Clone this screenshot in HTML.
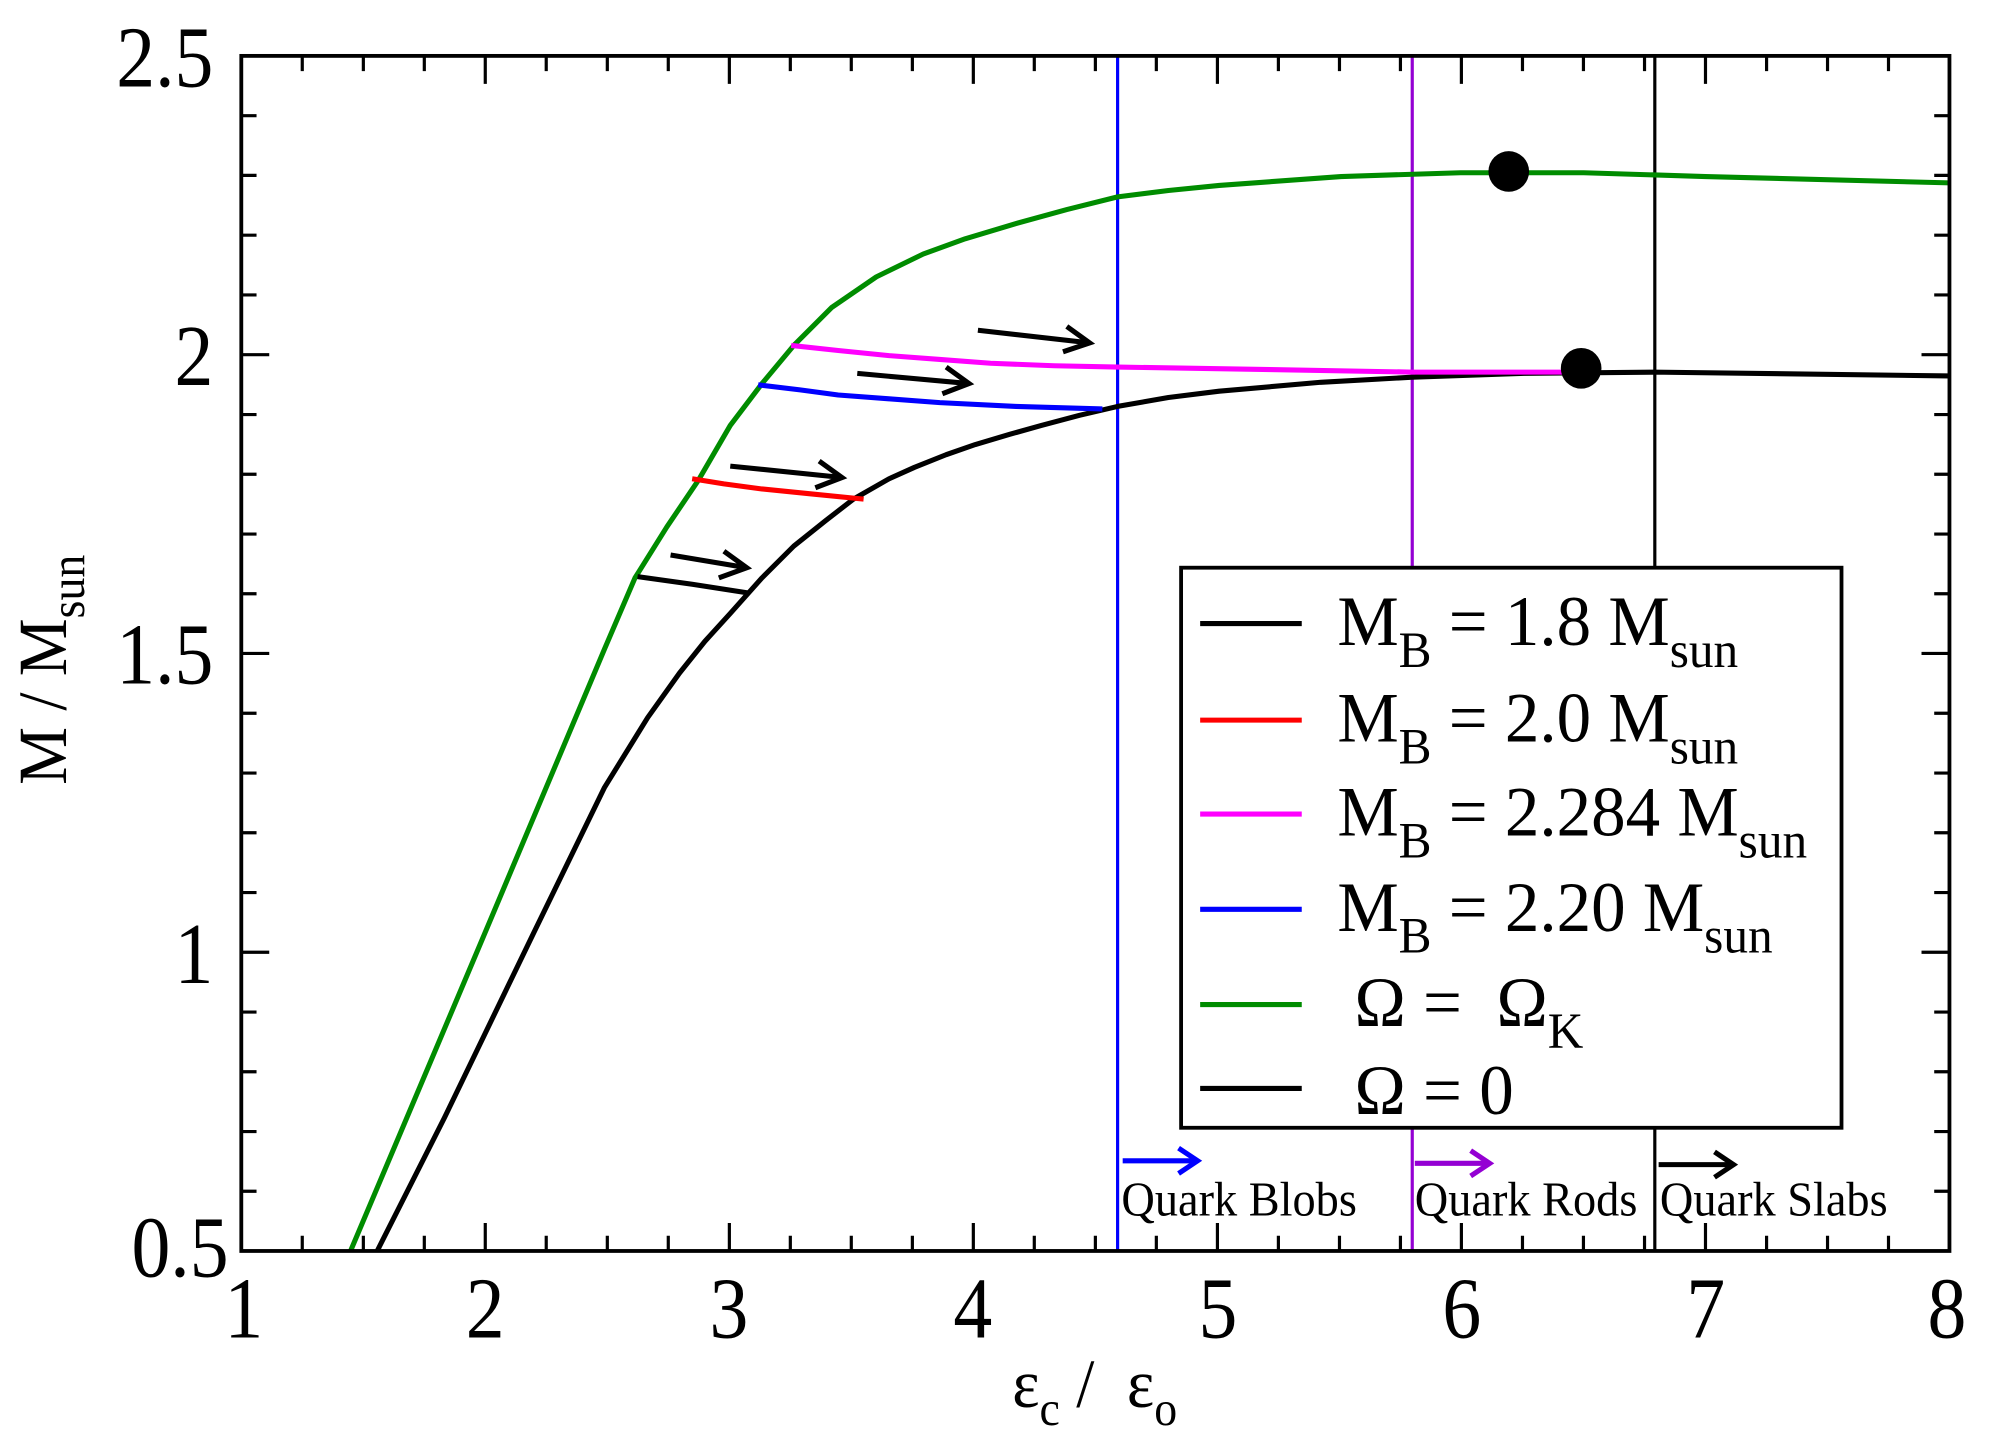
<!DOCTYPE html>
<html><head><meta charset="utf-8"><style>
html,body{margin:0;padding:0;background:#fff;}
svg{display:block;}
text{font-family:"Liberation Serif",serif;fill:#000;}
</style></head><body>
<svg width="1992" height="1451" viewBox="0 0 1568.5 1142.5" xmlns="http://www.w3.org/2000/svg">
<line x1="880" y1="44" x2="880" y2="985" stroke="#0000ff" stroke-width="2.5"/>
<line x1="1112" y1="44" x2="1112" y2="985" stroke="#9400d3" stroke-width="2.5"/>
<line x1="1303" y1="44" x2="1303" y2="985" stroke="#000" stroke-width="2.5"/>
<polyline fill="none" stroke="#008c00" stroke-width="4" stroke-linejoin="round" points="276,985 380,739 476,511 500,455 525,415 550,378 575,335 600,302 625,272 655,242 690,218 727,200 760,188 800,176 840,165 880,155 920,150 960,146 1056,139 1150,136 1247,136 1343,139 1535,144"/>
<polyline fill="none" stroke="#000" stroke-width="4" stroke-linejoin="round" points="297,985 350,880 420,735 476,620 510,565 535,530 555,505 575,483 600,455 625,430 650,410 672,393 700,377 720,368 745,358 768,350 795,342 820,335 850,327 880,320 920,313 960,308 1040,301 1112,297 1200,294 1303,293 1535,296"/>
<polyline fill="none" stroke="#000" stroke-width="4" points="502,454 545,460 590,467"/>
<polyline fill="none" stroke="#ff0000" stroke-width="4" stroke-linejoin="round" points="545,377 570,381 600,385 640,389 680,393"/>
<polyline fill="none" stroke="#0000ff" stroke-width="4" stroke-linejoin="round" points="597,303 630,307 660,311 700,314 740,317 800,320 868,322"/>
<polyline fill="none" stroke="#ff00ff" stroke-width="4" stroke-linejoin="round" points="623,272 660,276 700,280 740,283 780,286 830,288 880,289 1000,291 1112,293 1240,293"/>
<circle cx="1245" cy="290" r="16" fill="#000"/>
<circle cx="1188" cy="135" r="16" fill="#000"/>
<g stroke="#000" stroke-width="4" fill="none">
<line x1="528" y1="437" x2="588" y2="447"/><polyline points="570,434 588,447 566,455"/>
<line x1="575" y1="367" x2="663" y2="376"/><polyline points="645,363 663,376 642,384"/>
<line x1="675" y1="294" x2="763" y2="302"/><polyline points="745,289 763,302 742,310"/>
<line x1="770" y1="260" x2="858" y2="270"/><polyline points="840,257 858,270 837,277"/>
</g>
<rect x="930" y="447" width="520" height="441" fill="#fff" stroke="#000" stroke-width="3"/>
<g stroke-width="4">
<line x1="945" y1="491" x2="1025" y2="491" stroke="#000"/>
<line x1="945" y1="567" x2="1025" y2="567" stroke="#ff0000"/>
<line x1="945" y1="641" x2="1025" y2="641" stroke="#ff00ff"/>
<line x1="945" y1="716" x2="1025" y2="716" stroke="#0000ff"/>
<line x1="945" y1="791" x2="1025" y2="791" stroke="#008c00"/>
<line x1="945" y1="857" x2="1025" y2="857" stroke="#000"/>
</g>
<g font-size="56">
<text transform="translate(1053,508) scale(0.97,1)">M<tspan font-size="40" dy="17">B</tspan><tspan dy="-17"> = 1.8 M</tspan><tspan font-size="40" dy="17">sun</tspan></text>
<text transform="translate(1053,584) scale(0.97,1)">M<tspan font-size="40" dy="17">B</tspan><tspan dy="-17"> = 2.0 M</tspan><tspan font-size="40" dy="17">sun</tspan></text>
<text transform="translate(1053,658) scale(0.97,1)">M<tspan font-size="40" dy="17">B</tspan><tspan dy="-17"> = 2.284 M</tspan><tspan font-size="40" dy="17">sun</tspan></text>
<text transform="translate(1053,733) scale(0.97,1)">M<tspan font-size="40" dy="17">B</tspan><tspan dy="-17"> = 2.20 M</tspan><tspan font-size="40" dy="17">sun</tspan></text>
<text transform="translate(1053,808) scale(0.97,1)" xml:space="preserve"> Ω =  Ω<tspan font-size="40" dy="17">K</tspan></text>
<text transform="translate(1053,877) scale(0.97,1)" xml:space="preserve"> Ω = 0</text>
</g>
<g stroke-width="4" fill="none">
<line x1="884" y1="914" x2="943" y2="914" stroke="#0000ff"/><polyline points="928,904 943,914 928,924" stroke="#0000ff"/>
<line x1="1114" y1="916" x2="1173" y2="916" stroke="#9400d3"/><polyline points="1158,906 1173,916 1158,926" stroke="#9400d3"/>
<line x1="1306" y1="917" x2="1365" y2="917" stroke="#000"/><polyline points="1350,907 1365,917 1350,927" stroke="#000"/>
</g>
<g font-size="38">
<text transform="translate(883,957) scale(0.96,1)">Quark Blobs</text>
<text transform="translate(1114,957) scale(0.96,1)">Quark Rods</text>
<text transform="translate(1307,957) scale(0.96,1)">Quark Slabs</text>
</g>
<rect x="190" y="44" width="1345" height="941" fill="none" stroke="#000" stroke-width="3"/>
<g stroke="#000" stroke-width="2.5">
<path d="M382.1 985v-22M574.3 985v-22M766.4 985v-22M958.6 985v-22M1150.7 985v-22M1342.9 985v-22M382.1 44v22M574.3 44v22M766.4 44v22M958.6 44v22M1150.7 44v22M1342.9 44v22"/>
<path d="M238 985v-12M286.1 985v-12M334.1 985v-12M430.1 985v-12M478.2 985v-12M526.2 985v-12M622.3 985v-12M670.3 985v-12M718.4 985v-12M814.4 985v-12M862.5 985v-12M910.5 985v-12M1006.6 985v-12M1054.7 985v-12M1102.7 985v-12M1198.8 985v-12M1246.8 985v-12M1294.9 985v-12M1391 985v-12M1439 985v-12M1487 985v-12
M238 44v12M286.1 44v12M334.1 44v12M430.1 44v12M478.2 44v12M526.2 44v12M622.3 44v12M670.3 44v12M718.4 44v12M814.4 44v12M862.5 44v12M910.5 44v12M1006.6 44v12M1054.7 44v12M1102.7 44v12M1198.8 44v12M1246.8 44v12M1294.9 44v12M1391 44v12M1439 44v12M1487 44v12"/>
<path d="M190 279.3h22M190 514.5h22M190 749.8h22M1535 279.3h-22M1535 514.5h-22M1535 749.8h-22"/>
<path d="M190 91.1h12M190 138.1h12M190 185.2h12M190 232.2h12M190 326.4h12M190 373.4h12M190 420.5h12M190 467.5h12M190 561.6h12M190 608.7h12M190 655.7h12M190 702.8h12M190 796.9h12M190 843.9h12M190 891h12M190 938h12
M1535 91.1h-12M1535 138.1h-12M1535 185.2h-12M1535 232.2h-12M1535 326.4h-12M1535 373.4h-12M1535 420.5h-12M1535 467.5h-12M1535 561.6h-12M1535 608.7h-12M1535 655.7h-12M1535 702.8h-12M1535 796.9h-12M1535 843.9h-12M1535 891h-12M1535 938h-12"/>
</g>
<g font-size="68" text-anchor="middle">
<text transform="translate(192,1053) scale(0.9,1)">1</text>
<text transform="translate(382,1053) scale(0.9,1)">2</text>
<text transform="translate(574,1053) scale(0.9,1)">3</text>
<text transform="translate(766,1053) scale(0.9,1)">4</text>
<text transform="translate(959,1053) scale(0.9,1)">5</text>
<text transform="translate(1151,1053) scale(0.9,1)">6</text>
<text transform="translate(1343,1053) scale(0.9,1)">7</text>
<text transform="translate(1533,1053) scale(0.9,1)">8</text>
</g>
<g font-size="68" text-anchor="end">
<text transform="translate(168,68) scale(0.9,1)">2.5</text>
<text transform="translate(168,303) scale(0.9,1)">2</text>
<text transform="translate(168,538) scale(0.9,1)">1.5</text>
<text transform="translate(168,774) scale(0.9,1)">1</text>
<text transform="translate(180,1005) scale(0.9,1)">0.5</text>
</g>
<text transform="translate(797,1108) scale(0.95,1)" font-size="54">ε<tspan font-size="38" dy="14">c</tspan><tspan dy="-14" xml:space="preserve"> /  ε</tspan><tspan font-size="38" dy="14">o</tspan></text>
<text transform="translate(52,618) rotate(-90) scale(0.95,1)" font-size="54">M / M<tspan font-size="38" dy="14">sun</tspan></text>
</svg>
</body></html>
